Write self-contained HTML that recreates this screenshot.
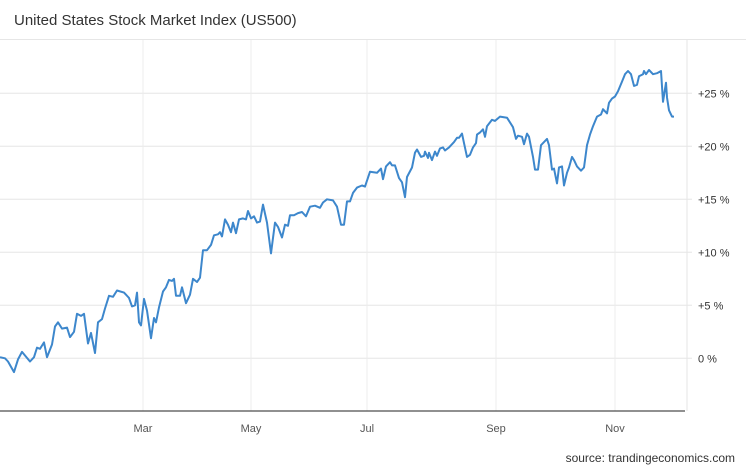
<!DOCTYPE html>
<html><head><meta charset="utf-8"><style>
html,body{margin:0;padding:0;background:#fff;}
svg{display:block;font-family:"Liberation Sans",Arial,sans-serif;}
</style></head><body>
<svg id="chart" width="746" height="468" viewBox="0 0 746 468" xmlns="http://www.w3.org/2000/svg">
<text x="14" y="25" font-size="15" fill="#333">United States Stock Market Index (US500)</text>
<line x1="0" y1="39.5" x2="746" y2="39.5" stroke="#e6e6e6" stroke-width="1"/>
<g id="grid"></g>
<g id="axes"></g>
<g id="series"></g>
<text x="735" y="462" font-size="12" fill="#333" text-anchor="end">source: trandingeconomics.com</text>
</svg>
<script>
// time index (session units) and index change (%)
const times = [0,5,8,14,18,22,30,34,37,40,44,47,52,55,58,62,67,70,74,77,81,84,88,91,95,98,102,105,109,113,117,124,129,132,135,137,139,141,144,147,151,154,156,159,163,166,169,172,174,176,180,182,186,190,193,197,200,203,207,211,214,218,220,222,225,228,231,233,236,239,243,246,248,251,254,257,260,263,267,271,275,278,282,285,288,290,294,298,302,306,310,315,320,323,327,333,337,341,344,347,350,353,357,362,365,370,377,381,383,386,390,392,395,399,402,405,407,412,415,417,421,424,425,428,429,432,435,437,440,443,445,449,454,457,459,462,464,467,470,473,476,477,480,483,485,487,492,495,500,507,513,516,518,522,524,527,529,533,535,538,541,544,547,549,552,554,557,559,562,564,567,569,572,574,577,581,584,587,590,593,597,601,603,607,609,612,615,618,622,625,628,631,634,637,639,643,644,646,649,653,657,661,663,666,667,669,672,674];
const values = [0.1,0.0,-0.3,-1.3,-0.1,0.6,-0.3,0.1,1.0,0.9,1.5,0.1,1.3,3.0,3.4,2.8,2.9,2.0,2.5,4.2,4.0,4.2,1.4,2.4,0.5,3.4,3.7,4.7,5.9,5.8,6.4,6.2,5.7,4.9,5.0,6.2,3.4,3.1,5.6,4.5,1.9,3.8,3.4,4.8,6.3,6.7,7.4,7.3,7.5,5.9,5.9,6.7,5.2,6.0,7.5,7.2,7.6,10.2,10.2,10.7,11.6,11.7,11.9,11.5,13.1,12.6,11.9,12.8,11.8,13.1,13.2,13.1,13.9,13.2,13.4,12.8,12.9,14.5,12.8,9.9,12.8,12.4,11.4,12.6,12.5,13.5,13.5,13.7,13.8,13.4,14.3,14.4,14.2,14.7,15.0,14.9,14.3,12.6,12.6,14.8,14.8,15.6,16.1,16.3,16.2,17.6,17.5,17.9,16.9,18.1,18.5,18.2,18.2,17.0,16.6,15.2,17.1,18.0,19.4,19.7,19.0,19.1,19.5,18.9,19.4,18.7,19.5,19.1,19.8,19.9,19.6,19.9,20.4,20.8,20.8,21.2,20.3,19.0,19.2,19.9,20.3,21.1,21.3,21.6,20.9,21.9,22.5,22.4,22.8,22.7,21.8,20.7,21.0,20.9,20.2,21.2,20.9,19.0,17.8,17.8,20.1,20.4,20.7,20.1,17.8,17.9,16.5,18.0,18.1,16.3,17.5,18.0,19.0,18.7,18.1,17.7,18.0,20.1,21.1,21.9,22.8,23.0,23.5,23.1,24.1,24.5,24.7,25.2,26.1,26.8,27.1,26.8,25.7,25.8,26.6,26.8,27.1,26.8,27.2,26.8,26.9,27.1,24.2,26.0,24.6,23.4,22.8,22.8];
const yTicks = [0,5,10,15,20,25];
const yTickLabels = ["0 %","+5 %","+10 %","+15 %","+20 %","+25 %"];
const monthTimes = [143,251,367,496,615];
const monthLabels = ["Mar","May","Jul","Sep","Nov"];

const NS = "http://www.w3.org/2000/svg";
const plotLeft = 0, plotRight = 687, plotTop = 40, plotBottom = 411;
function xScale(t){ return plotLeft + t * (674 - 0) / 674; }
function yScale(v){ return 358.3 - v * 10.6; }
function mk(tag, attrs, parent){ const e = document.createElementNS(NS, tag); for (const k in attrs) e.setAttribute(k, attrs[k]); parent.appendChild(e); return e; }

const grid = document.getElementById('grid');
const axes = document.getElementById('axes');
const series = document.getElementById('series');

yTicks.forEach((v, i) => {
  const y = yScale(v);
  const gl = mk('line', {x1: plotLeft, x2: plotRight + 5, y1: y, y2: y, stroke: '#e6e6e6', 'stroke-width': 1}, grid);
  
  
  const lb = mk('text', {x: 698, y: y + 4, 'font-size': 11, fill: '#333'}, axes);
  lb.textContent = yTickLabels[i];
  
  
});
monthTimes.forEach((t, i) => {
  const x = xScale(t);
  const gl = mk('line', {x1: x, x2: x, y1: plotTop, y2: plotBottom, stroke: '#ececec', 'stroke-width': 1}, grid);
  
  
  const lb = mk('text', {x: x, y: 432, 'font-size': 11, fill: '#555', 'text-anchor': 'middle'}, axes);
  lb.textContent = monthLabels[i];
  
  
});
const ra = mk('line', {x1: plotRight, x2: plotRight, y1: plotTop, y2: plotBottom, stroke: '#e6e6e6', 'stroke-width': 1}, axes);


const xa = mk('line', {x1: 0, x2: plotRight - 2, y1: plotBottom, y2: plotBottom, stroke: '#222', 'stroke-width': 1}, axes);



const d = times.map((t, i) => (i ? 'L' : 'M') + xScale(t).toFixed(1) + ',' + yScale(values[i]).toFixed(1)).join(' ');
const p = mk('path', {d: d, fill: 'none', stroke: '#3d87cc', 'stroke-width': 2, 'stroke-linejoin': 'round'}, series);


</script>
</body></html>
